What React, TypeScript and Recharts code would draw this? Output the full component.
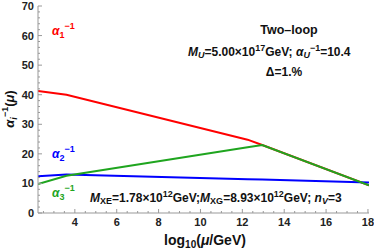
import { Line, LineChart, XAxis, YAxis } from 'recharts'

// log10(mu/GeV) break points and inverse couplings
const logMu1 = [2.24, 3.6, 12.25, 12.95, 18.05]
const alpha1Inv = [41.3, 40.0, 24.8, 23.0, 9.4]
const logMu2 = [2.24, 3.6, 12.25, 12.95, 18.05]
const alpha2Inv = [12.4, 13.0, 11.4, 11.3, 10.3]
const logMu3 = [2.24, 3.6, 12.25, 12.95, 18.05]
const alpha3Inv = [9.8, 12.6, 22.2, 23.0, 9.4]

const xMajor = [4, 6, 8, 10, 12, 14, 16, 18]
const xTicks = [
  2.5, 3, 3.5, 4, 4.5, 5, 5.5, 6, 6.5, 7, 7.5, 8, 8.5, 9, 9.5, 10, 10.5, 11, 11.5, 12, 12.5, 13, 13.5,
  14, 14.5, 15, 15.5, 16, 16.5, 17, 17.5, 18,
]
const yMajor = [0, 10, 20, 30, 40, 50, 60, 70]
const yTicks = [
  0, 2, 4, 6, 8, 10, 12, 14, 16, 18, 20, 22, 24, 26, 28, 30, 32, 34, 36, 38, 40, 42, 44, 46, 48, 50, 52,
  54, 56, 58, 60, 62, 64, 66, 68, 70,
]

const zip = (xs: number[], ys: number[]) => xs.map((x, i) => ({ x, y: ys[i] }))

const FRAME = '#999'
const FONT = '"Liberation Sans", Arial, sans-serif'
const tickText = { fontFamily: FONT, fontSize: 11, fontWeight: 700, fill: '#222' }

const BottomTick = (props: any) => {
  const { x, y, payload } = props
  const major = xMajor.includes(payload.value)
  return (
    <g>
      <line x1={x} y1={y} x2={x} y2={y - (major ? 4 : 2)} stroke={FRAME} />
      {major && (
        <text x={x} y={y + 13} textAnchor="middle" {...tickText}>
          {payload.value}
        </text>
      )}
    </g>
  )
}

const TopTick = (props: any) => {
  const { x, y, payload } = props
  const major = xMajor.includes(payload.value)
  return <line x1={x} y1={y} x2={x} y2={y + (major ? 4 : 2)} stroke={FRAME} />
}

const LeftTick = (props: any) => {
  const { x, y, payload } = props
  const major = yMajor.includes(payload.value)
  return (
    <g>
      <line x1={x} y1={y} x2={x + (major ? 4 : 2)} y2={y} stroke={FRAME} />
      {major && (
        <text x={x - 4} y={y + 4} textAnchor="end" {...tickText}>
          {payload.value}
        </text>
      )}
    </g>
  )
}

const RightTick = (props: any) => {
  const { x, y, payload } = props
  const major = yMajor.includes(payload.value)
  return <line x1={x} y1={y} x2={x - (major ? 4 : 2)} y2={y} stroke={FRAME} />
}

const labelStyle = { fontFamily: FONT, fontWeight: 700 }

export default function App() {
  return (
    <div style={{ position: 'absolute', left: 0, top: 0, width: 374, height: 252, background: '#fff' }}>
      <LineChart width={374} height={252} margin={{ top: 6, right: 5, bottom: 0, left: 0 }}>
        <XAxis
          dataKey="x"
          type="number"
          domain={[2.24, 18.05]}
          allowDataOverflow
          ticks={xTicks}
          interval={0}
          tickSize={0}
          tickMargin={0}
          tickLine={false}
          tick={<BottomTick />}
          height={39}
          axisLine={{ stroke: FRAME }}
        />
        <XAxis
          xAxisId="top"
          orientation="top"
          dataKey="x"
          type="number"
          domain={[2.24, 18.05]}
          allowDataOverflow
          ticks={xTicks}
          interval={0}
          tickSize={0}
          tickMargin={0}
          tickLine={false}
          tick={<TopTick />}
          height={0}
          axisLine={{ stroke: FRAME }}
        />
        <YAxis
          type="number"
          domain={[0, 70]}
          ticks={yTicks}
          interval={0}
          tickSize={0}
          tickMargin={0}
          tickLine={false}
          tick={<LeftTick />}
          width={38}
          axisLine={{ stroke: FRAME }}
        />
        <YAxis
          yAxisId="right"
          orientation="right"
          type="number"
          domain={[0, 70]}
          ticks={yTicks}
          interval={0}
          tickSize={0}
          tickMargin={0}
          tickLine={false}
          tick={<RightTick />}
          width={0}
          axisLine={{ stroke: FRAME }}
        />
        <Line data={zip(logMu1, alpha1Inv)} dataKey="y" stroke="#ff0000" strokeWidth={2} dot={false} isAnimationActive={false} />
        <Line data={zip(logMu2, alpha2Inv)} dataKey="y" stroke="#0000ff" strokeWidth={2} dot={false} isAnimationActive={false} />
        <Line data={zip(logMu3, alpha3Inv)} dataKey="y" stroke="#1fa51f" strokeWidth={2} dot={false} isAnimationActive={false} />
      </LineChart>
      <svg width={374} height={252} style={{ position: 'absolute', left: 0, top: 0, pointerEvents: 'none' }}>
        <text x={52} y={35} fill="#ff0000" fontSize={12} {...labelStyle}>
          <tspan fontStyle="italic">α</tspan>
          <tspan fontSize={9} dy={3}>1</tspan>
          <tspan fontSize={9} dy={-9}>−1</tspan>
        </text>
        <text x={52} y={158} fill="#0000ff" fontSize={12} {...labelStyle}>
          <tspan fontStyle="italic">α</tspan>
          <tspan fontSize={9} dy={3}>2</tspan>
          <tspan fontSize={9} dy={-9}>−1</tspan>
        </text>
        <text x={52} y={197} fill="#1fa51f" fontSize={12} {...labelStyle}>
          <tspan fontStyle="italic">α</tspan>
          <tspan fontSize={9} dy={3}>3</tspan>
          <tspan fontSize={9} dy={-9}>−1</tspan>
        </text>
        <text x={289} y={34} textAnchor="middle" fontSize={12.5} fill="#111" {...labelStyle}>
          Two–loop
        </text>
        <text x={188} y={56} fontSize={12} fill="#111" {...labelStyle}>
          <tspan fontStyle="italic">M</tspan>
          <tspan fontStyle="italic" fontSize={9} dy={2}>U</tspan>
          <tspan dy={-2}>=5.00×10</tspan>
          <tspan fontSize={9} dy={-5}>17</tspan>
          <tspan dy={5}>GeV; </tspan>
          <tspan fontStyle="italic">α</tspan>
          <tspan fontStyle="italic" fontSize={9} dy={2}>U</tspan>
          <tspan fontSize={9} dy={-7}>−1</tspan>
          <tspan dy={5}>=10.4</tspan>
        </text>
        <text x={284} y={76} textAnchor="middle" fontSize={12} fill="#111" {...labelStyle}>
          Δ=1.%
        </text>
        <text x={90} y={202} fontSize={12} fill="#111" {...labelStyle}>
          <tspan fontStyle="italic">M</tspan>
          <tspan fontSize={9} dy={2}>XE</tspan>
          <tspan dy={-2}>=1.78×10</tspan>
          <tspan fontSize={9} dy={-5}>12</tspan>
          <tspan dy={5}>GeV;</tspan>
          <tspan fontStyle="italic">M</tspan>
          <tspan fontSize={9} dy={2}>XG</tspan>
          <tspan dy={-2}>=8.93×10</tspan>
          <tspan fontSize={9} dy={-5}>12</tspan>
          <tspan dy={5}>GeV; </tspan>
          <tspan fontStyle="italic">n</tspan>
          <tspan fontStyle="italic" fontSize={9} dy={2}>V</tspan>
          <tspan dy={-2}>=3</tspan>
        </text>
        <text x={205} y={245} textAnchor="middle" fontSize={14} fill="#111" {...labelStyle}>
          <tspan>log</tspan>
          <tspan fontSize={10} dy={3}>10</tspan>
          <tspan dy={-3}>(</tspan>
          <tspan fontStyle="italic">μ</tspan>
          <tspan>/GeV)</tspan>
        </text>
        <text x={14} y={109} textAnchor="middle" fontSize={13} fill="#111" transform="rotate(-90 14 109)" {...labelStyle}>
          <tspan fontStyle="italic">α</tspan>
          <tspan fontStyle="italic" fontSize={9} dy={3}>i</tspan>
          <tspan fontSize={9} dy={-9}>−1</tspan>
          <tspan dy={6}>(</tspan>
          <tspan fontStyle="italic">μ</tspan>
          <tspan>)</tspan>
        </text>
      </svg>
    </div>
  )
}
